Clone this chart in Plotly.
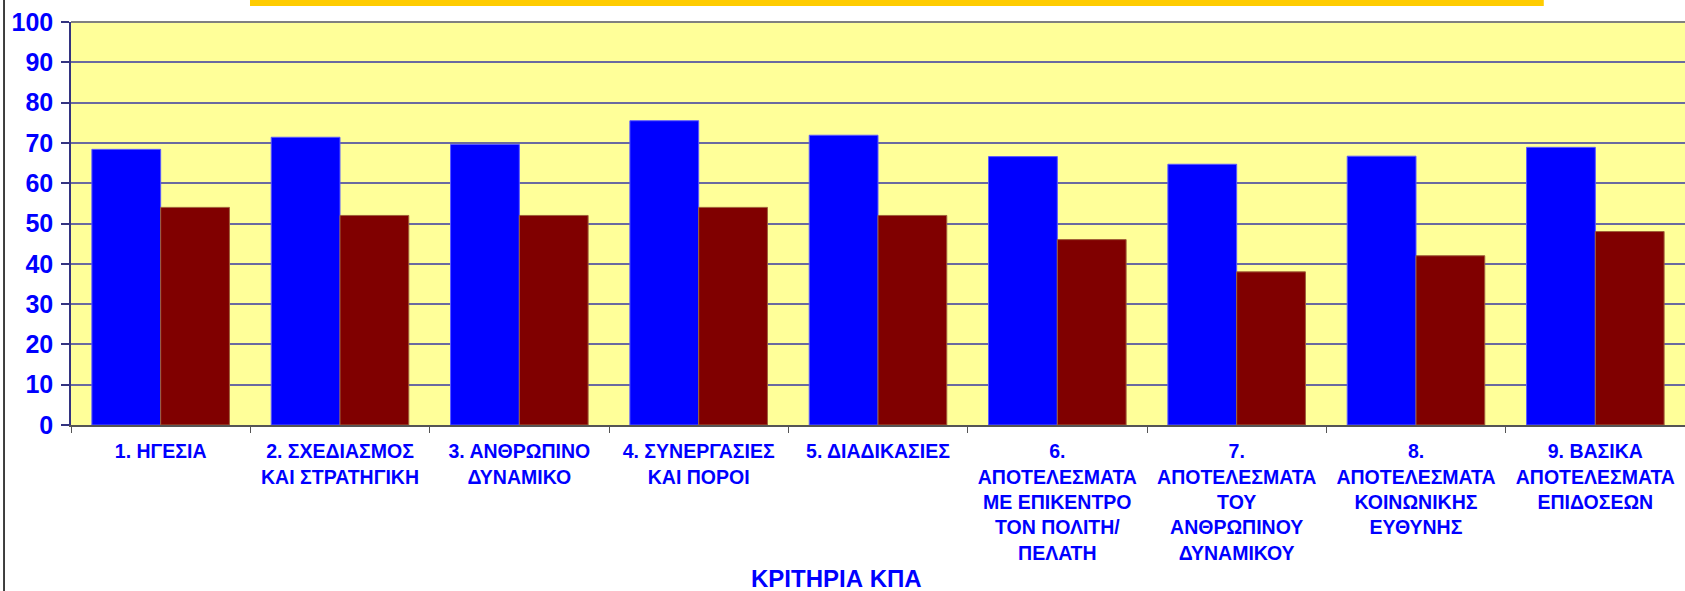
import plotly.graph_objects as go

categories = [
    "1. ΗΓΕΣΙΑ",
    "2. ΣΧΕΔΙΑΣΜΟΣ<br>ΚΑΙ ΣΤΡΑΤΗΓΙΚΗ",
    "3. ΑΝΘΡΩΠΙΝΟ<br>ΔΥΝΑΜΙΚΟ",
    "4. ΣΥΝΕΡΓΑΣΙΕΣ<br>ΚΑΙ ΠΟΡΟΙ",
    "5. ΔΙΑΔΙΚΑΣΙΕΣ",
    "6.<br>ΑΠΟΤΕΛΕΣΜΑΤΑ<br>ΜΕ ΕΠΙΚΕΝΤΡΟ<br>ΤΟΝ ΠΟΛΙΤΗ/<br>ΠΕΛΑΤΗ",
    "7.<br>ΑΠΟΤΕΛΕΣΜΑΤΑ<br>ΤΟΥ<br>ΑΝΘΡΩΠΙΝΟΥ<br>ΔΥΝΑΜΙΚΟΥ",
    "8.<br>ΑΠΟΤΕΛΕΣΜΑΤΑ<br>ΚΟΙΝΩΝΙΚΗΣ<br>ΕΥΘΥΝΗΣ",
    "9. ΒΑΣΙΚΑ<br>ΑΠΟΤΕΛΕΣΜΑΤΑ<br>ΕΠΙΔΟΣΕΩΝ",
]
series_blue = [68.4, 71.4, 69.6, 75.5, 71.9, 66.6, 64.7, 66.7, 68.9]
series_red = [54, 52, 52, 54, 52, 46, 38, 42, 48]
y_ticks = [0, 10, 20, 30, 40, 50, 60, 70, 80, 90, 100]
x_title = "ΚΡΙΤΗΡΙΑ ΚΠΑ"

FONT = "Liberation Sans, Arial, sans-serif"
TXT = "#0000FF"

fig = go.Figure()
fig.add_trace(go.Bar(x=categories, y=series_blue, name="A",
                     marker=dict(color="#0000FF", line=dict(color="#5a5aff", width=1))))
fig.add_trace(go.Bar(x=categories, y=series_red, name="B",
                     marker=dict(color="#800000", line=dict(color="#a0603a", width=1))))

fig.update_layout(
    width=1685, height=591,
    margin=dict(l=71, r=0, t=22, b=166, pad=0),
    paper_bgcolor="white",
    plot_bgcolor="#FFFF99",
    barmode="group",
    bargap=0.233,
    bargroupgap=0,
    showlegend=False,
    font=dict(family=FONT, color=TXT),
)
fig.update_xaxes(
    type="category",
    tickson="boundaries",
    ticks="outside", ticklen=6, tickcolor="#555555", tickwidth=1,
    showline=True, linecolor="#555555", linewidth=1.5,
    showgrid=False,
    tickfont=dict(family=FONT, size=19.5, color=TXT, weight="bold"),
    tickangle=0,
    ticklabelstandoff=8,
)
fig.update_yaxes(
    range=[0, 100],
    tickvals=y_ticks,
    ticks="outside", ticklen=8, tickcolor="#333380", tickwidth=1.5,
    showline=True, linecolor="#333380", linewidth=1.5,
    showgrid=True, gridcolor="#6a6aa0", gridwidth=1.5,
    tickfont=dict(family=FONT, size=25, color=TXT, weight="bold"),
    zeroline=False,
    ticklabelstandoff=3,
)

# top border of plot area (gray)
fig.add_shape(type="line", xref="paper", yref="paper", x0=0, x1=1, y0=1, y1=1,
              line=dict(color="#808080", width=2))
# orange title-box remnant at top
fig.add_shape(type="rect", xref="paper", yref="paper", x0=0.1109, x1=0.9125,
              y0=1.0397, y1=1.07, fillcolor="#FFCC00", line=dict(width=0))
# left chart frame line
fig.add_shape(type="line", xref="paper", yref="paper", x0=-0.0415, x1=-0.0415,
              y0=-0.5, y1=1.07, line=dict(color="black", width=1.5))

fig.add_annotation(text=x_title, xref="paper", yref="paper", x=0.474, y=-0.342,
                   xanchor="center", yanchor="top", showarrow=False,
                   font=dict(family=FONT, size=24, color=TXT, weight="bold"))

fig.write_html("out.html", config={"displayModeBar": False},
               post_script="document.body.style.margin='0px';")
